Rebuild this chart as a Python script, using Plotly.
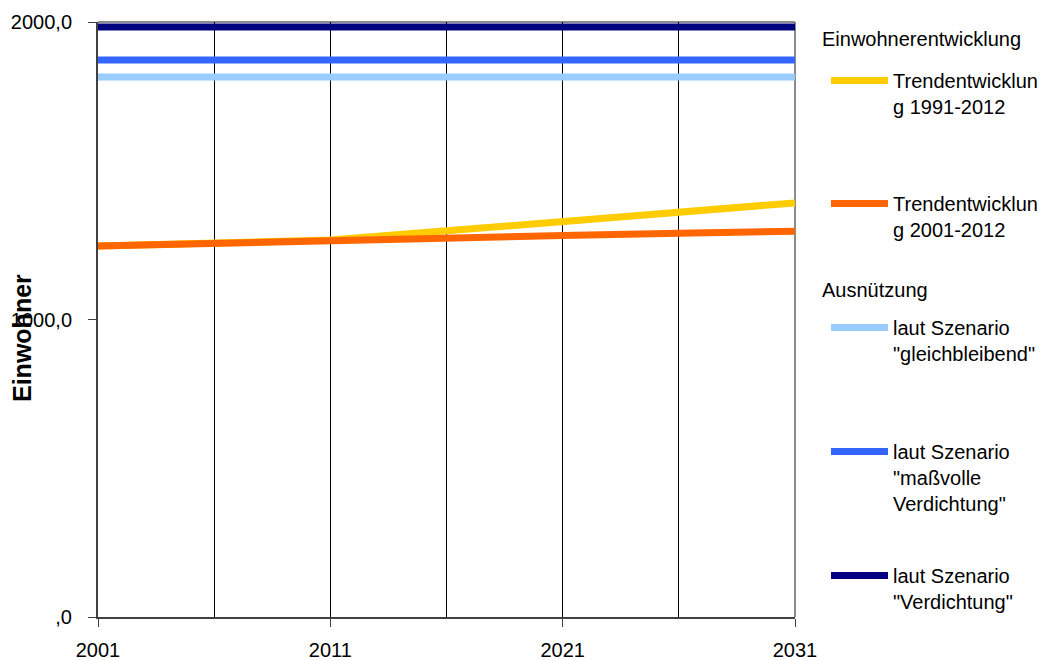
import plotly.graph_objects as go

W, H = 1042, 661

years = [2001, 2006, 2011, 2016, 2021, 2026, 2031]
trend_1991_2012 = [1247, 1257, 1267, 1298, 1328, 1360, 1392]
trend_2001_2012 = [1247, 1257, 1267, 1274, 1282, 1290, 1297]
scen_gleich = [1815] * len(years)
scen_massvoll = [1872] * len(years)
scen_verdichtung = [1983] * len(years)

x_ticks = [2001, 2011, 2021, 2031]
x_ticktext = ["2001", "2011", "2021", "2031"]
y_ticks = [0, 1000, 2000]
y_ticktext = [",0", "1000,0", "2000,0"]

series = [
    ("Trendentwicklun<br>g 1991-2012", trend_1991_2012, "#FFCC00", "legend", 82),
    ("Trendentwicklun<br>g 2001-2012", trend_2001_2012, "#FF6600", "legend2", 205),
    ("laut Szenario<br>\"gleichbleibend\"", scen_gleich, "#99CCFF", "legend3", 329),
    ("laut Szenario<br>\"maßvolle<br>Verdichtung\"", scen_massvoll, "#3366FF", "legend4", 453),
    ("laut Szenario<br>\"Verdichtung\"", scen_verdichtung, "#000080", "legend5", 577),
]

FONT = "Liberation Sans, Arial, sans-serif"

fig = go.Figure()
for name, vals, color, leg, _ in series:
    fig.add_trace(go.Scatter(
        x=years, y=vals, mode="lines", name=name,
        line=dict(color=color, width=7),
        legend=leg, hoverinfo="skip",
    ))

ml, mr, mt, mb = 98, 247, 22, 44

legend_common = dict(
    xref="container", yref="container", xanchor="left", yanchor="top",
    font=dict(family=FONT, size=20, color="#000000"),
    bgcolor="rgba(0,0,0,0)", borderwidth=0, valign="top",
    itemwidth=57, tracegroupgap=0,
)
layout_legends = {}
for name, vals, color, leg, ysym in series:
    layout_legends[leg] = dict(
        legend_common,
        x=826 / W,
        y=1 - (ysym - 21) / H,
    )

fig.update_layout(
    width=W, height=H,
    margin=dict(l=ml, r=mr, t=mt, b=mb, autoexpand=False),
    paper_bgcolor="white", plot_bgcolor="white",
    font=dict(family=FONT, size=20, color="#000000"),
    showlegend=True,
    xaxis=dict(
        range=[2001, 2031],
        tickmode="array", tickvals=x_ticks, ticktext=x_ticktext,
        ticks="outside", ticklen=8, tickcolor="#404040", tickwidth=1,
        ticklabelstandoff=6,
        showline=True, linecolor="#404040", linewidth=2,
        showgrid=True, gridcolor="#000000", gridwidth=1,
        minor=dict(tick0=2001, dtick=5, showgrid=True, gridcolor="#000000", gridwidth=1, ticks=""),
        zeroline=False,
        tickfont=dict(family=FONT, size=20, color="#000000"),
    ),
    yaxis=dict(
        range=[0, 2000],
        tickmode="array", tickvals=y_ticks, ticktext=y_ticktext,
        ticks="outside", ticklen=8, tickcolor="#404040", tickwidth=1,
        ticklabelstandoff=12,
        showline=True, linecolor="#404040", linewidth=2,
        showgrid=False, zeroline=False,
        tickfont=dict(family=FONT, size=20, color="#000000"),
    ),
    shapes=[
        dict(type="line", xref="paper", yref="paper", x0=0, x1=1, y0=1, y1=1,
             line=dict(color="#8c8c8c", width=2), layer="below"),
        dict(type="line", xref="paper", yref="paper", x0=1, x1=1, y0=0, y1=1,
             line=dict(color="#8c8c8c", width=2), layer="below"),
    ],
    annotations=[
        dict(text="<b>Einwohner</b>", xref="paper", yref="paper",
             x=-(ml - 22) / (W - ml - mr), y=1 - (338 - mt) / (H - mt - mb),
             xanchor="center", yanchor="middle", textangle=-90, showarrow=False,
             font=dict(family=FONT, size=25, color="#000000")),
        dict(text="Einwohnerentwicklung", xref="paper", yref="paper",
             x=(820 - ml) / (W - ml - mr), y=1 - (39 - mt) / (H - mt - mb),
             xanchor="left", yanchor="middle", showarrow=False,
             font=dict(family=FONT, size=20, color="#000000")),
        dict(text="Ausnützung", xref="paper", yref="paper",
             x=(820 - ml) / (W - ml - mr), y=1 - (290 - mt) / (H - mt - mb),
             xanchor="left", yanchor="middle", showarrow=False,
             font=dict(family=FONT, size=20, color="#000000")),
    ],
    **layout_legends,
)

fig.write_html("out.html", config={"displayModeBar": False},
               post_script="document.body.style.margin='0';document.body.style.overflow='hidden';")
